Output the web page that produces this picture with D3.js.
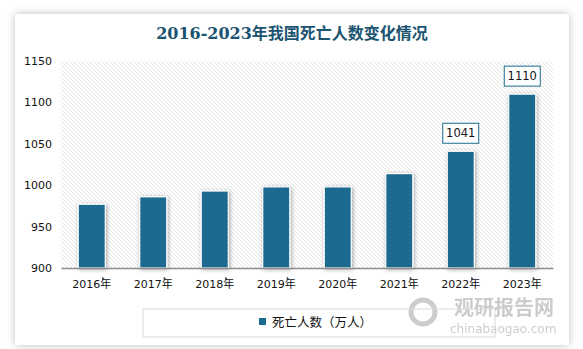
<!DOCTYPE html>
<html>
<head>
<meta charset="utf-8">
<script src="https://cdn.jsdelivr.net/npm/d3@7"></script>
<style>
  body { margin: 0; background: #fff; }
  svg { display: block; }
</style>
</head>
<body>
<div id="chart"></div>
<script>
var years = ['2016年', '2017年', '2018年', '2019年', '2020年', '2021年', '2022年', '2023年'];
var deaths = [977, 986, 993, 998, 998, 1014, 1041, 1110];
var yTicks = [900, 950, 1000, 1050, 1100, 1150];
var labelled = ['2022年', '2023年'];

var W = 583, H = 349;
var plot = {left: 61, right: 553, top: 61, bottom: 268};

var svg = d3.select('#chart').append('svg')
  .attr('width', W).attr('height', H);

var defs = svg.append('defs');

var cardShadow = defs.append('filter').attr('id', 'cardShadow')
  .attr('x', '-5%').attr('y', '-5%').attr('width', '110%').attr('height', '110%');
cardShadow.append('feDropShadow')
  .attr('dx', 0).attr('dy', 0).attr('stdDeviation', 4)
  .attr('flood-color', '#000').attr('flood-opacity', 0.25);

var barShadow = defs.append('filter').attr('id', 'barShadow')
  .attr('x', '-40%').attr('y', '-10%').attr('width', '180%').attr('height', '130%');
barShadow.append('feDropShadow')
  .attr('dx', 1).attr('dy', 1).attr('stdDeviation', 2)
  .attr('flood-color', '#000').attr('flood-opacity', 0.35);

var hatch = defs.append('pattern').attr('id', 'hatch')
  .attr('patternUnits', 'userSpaceOnUse')
  .attr('width', 4).attr('height', 4);
hatch.append('rect').attr('width', 4).attr('height', 4).attr('fill', '#fff');
hatch.append('path')
  .attr('d', 'M-1,-1 L5,5 M-1,3 L1,5 M3,-1 L5,1')
  .attr('stroke', '#e2e2e2').attr('stroke-width', 0.9);

// card
svg.append('rect')
  .attr('x', 15).attr('y', 14).attr('width', 554).attr('height', 331)
  .attr('fill', '#fff')
  .attr('filter', 'url(#cardShadow)');

// title
svg.append('text')
  .attr('x', 292).attr('y', 39)
  .attr('text-anchor', 'middle')
  .style('font-family', '"DejaVu Serif", "Noto Sans CJK SC", serif')
  .style('font-size', '16px')
  .style('font-weight', 'bold')
  .style('fill', '#1b5470')
  .text('2016-2023年我国死亡人数变化情况');

var x = d3.scaleBand()
  .domain(years)
  .range([plot.left, plot.right])
  .paddingInner(0.56)
  .paddingOuter(0.28);

var y = d3.scaleLinear()
  .domain([900, 1150])
  .range([plot.bottom, plot.top]);

// hatched plot background
svg.append('rect')
  .attr('x', plot.left).attr('y', plot.top)
  .attr('width', plot.right - plot.left).attr('height', plot.bottom - plot.top)
  .attr('fill', 'url(#hatch)');

// y axis labels
var yAxis = d3.axisLeft(y).tickValues(yTicks).tickFormat(d3.format('d'))
  .tickSize(0).tickPadding(9);
svg.append('g')
  .attr('transform', 'translate(' + plot.left + ',0)')
  .call(yAxis)
  .call(function(g) { g.select('.domain').remove(); })
  .selectAll('text')
  .style('font-family', '"DejaVu Sans", sans-serif')
  .style('font-size', '11px')
  .style('fill', '#111');

// bars
svg.selectAll('.bar').data(deaths)
  .enter().append('rect')
  .attr('class', 'bar')
  .attr('x', function(d, i) { return x(years[i]); })
  .attr('y', function(d) { return y(d); })
  .attr('width', x.bandwidth())
  .attr('height', function(d) { return plot.bottom - y(d); })
  .attr('fill', '#1b6b8f')
  .attr('stroke', '#fff')
  .attr('stroke-width', 1.2)
  .attr('filter', 'url(#barShadow)');

// x axis
var xAxis = d3.axisBottom(x).tickSize(0).tickPadding(12);
var gx = svg.append('g')
  .attr('transform', 'translate(0,' + plot.bottom + ')')
  .call(xAxis);
gx.select('.domain').attr('stroke', '#8c8c8c').attr('stroke-width', 1.3);
gx.selectAll('text')
  .style('font-family', '"DejaVu Sans", "Noto Sans CJK SC", sans-serif')
  .style('font-size', '11px')
  .style('fill', '#111');
gx.selectAll('.tick').append('line')
  .attr('x1', 11).attr('x2', 11)
  .attr('y1', 9).attr('y2', 12)
  .attr('stroke', '#333');

// value labels
var lab = svg.selectAll('.lab').data(deaths.filter(function(d, i) {
    return labelled.indexOf(years[i]) >= 0;
  }))
  .enter().append('g')
  .attr('class', 'lab')
  .attr('transform', function(d) {
    var i = deaths.indexOf(d);
    return 'translate(' + (x(years[i]) + x.bandwidth() / 2) + ',' + (y(d) - 18) + ')';
  });
lab.append('rect')
  .attr('x', -18).attr('y', -10).attr('width', 36).attr('height', 20)
  .attr('fill', '#fff').attr('stroke', '#1b6b8f').attr('stroke-width', 1);
lab.append('text')
  .attr('text-anchor', 'middle').attr('dy', '0.36em')
  .style('font-family', '"DejaVu Sans", sans-serif')
  .style('font-size', '11.5px')
  .style('fill', '#111')
  .text(function(d) { return d; });

// watermark
var wm = svg.append('g').style('fill', '#c4c4c4').style('opacity', 0.85);
wm.append('circle').attr('cx', 423).attr('cy', 312).attr('r', 12)
  .attr('fill', 'none').attr('stroke', '#c4c4c4').attr('stroke-width', 5);
wm.append('text').attr('x', 454).attr('y', 315)
  .style('font-family', '"Noto Sans CJK SC", sans-serif')
  .style('font-size', '20px').style('font-weight', 'bold')
  .text('观研报告网');
wm.append('text').attr('x', 450).attr('y', 333)
  .style('font-family', '"DejaVu Sans", sans-serif')
  .style('font-size', '12px')
  .text('chinabaogao.com');

// legend
svg.append('rect')
  .attr('x', 143).attr('y', 309).attr('width', 352).attr('height', 28)
  .attr('fill', 'none').attr('stroke', '#d9d9d9');
svg.append('rect')
  .attr('x', 259).attr('y', 318).attr('width', 7).attr('height', 7)
  .attr('fill', '#1b6b8f');
svg.append('text')
  .attr('x', 272).attr('y', 327)
  .style('font-family', '"Noto Sans CJK SC", sans-serif')
  .style('font-size', '12.5px')
  .style('fill', '#111')
  .text('死亡人数（万人）');
</script>
</body>
</html>
